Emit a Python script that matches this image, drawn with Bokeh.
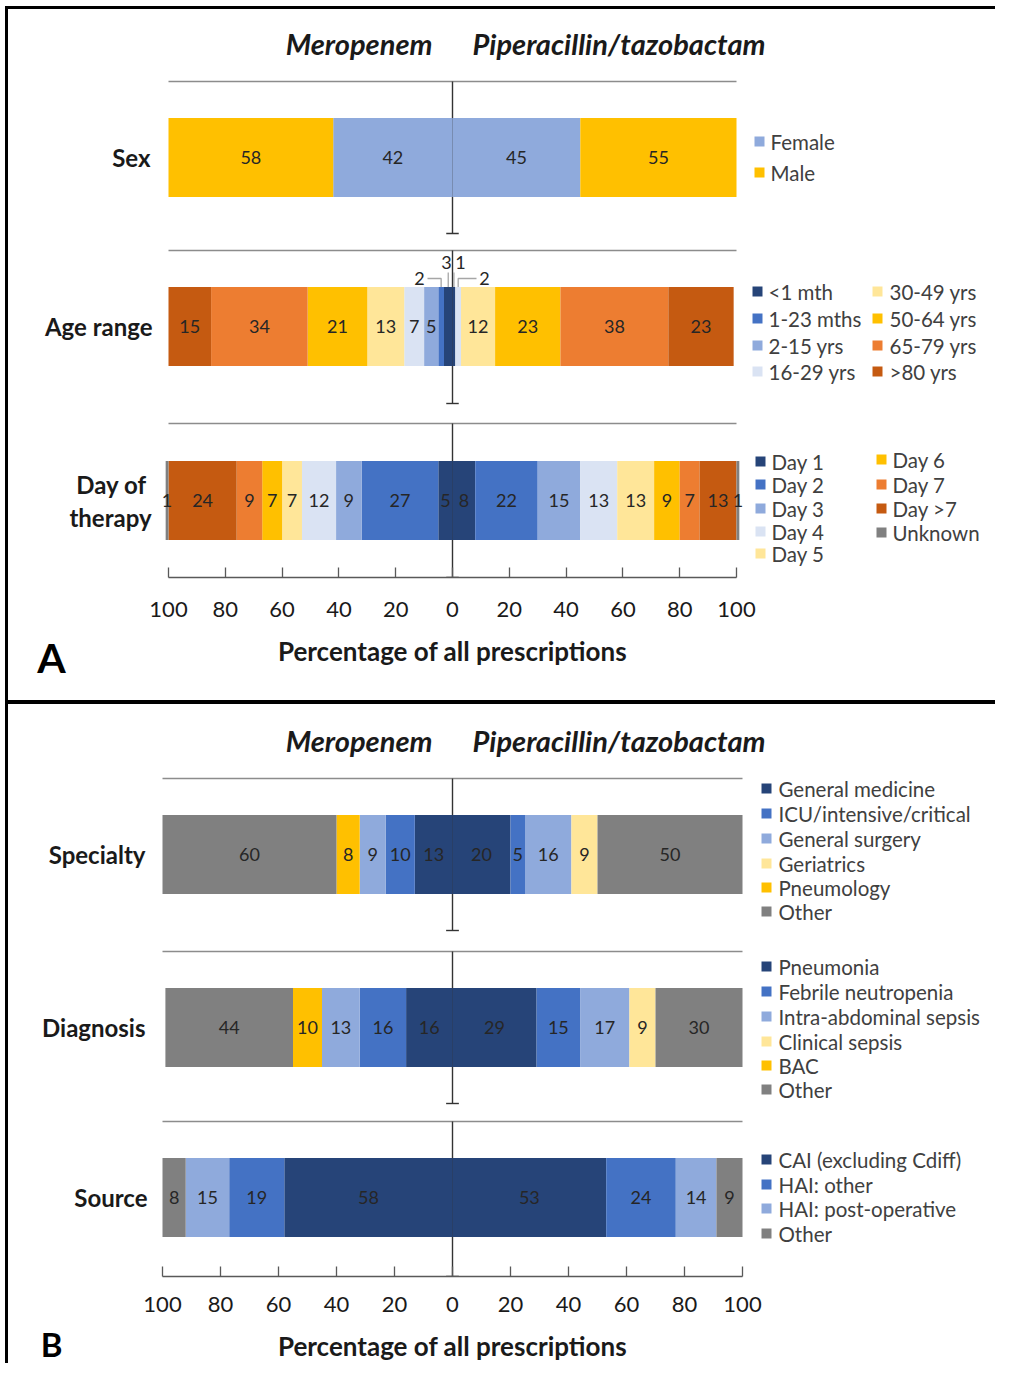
from bokeh.plotting import figure
from bokeh.models import Range1d, LinearAxis, FixedTicker, Label, Div, ColumnDataSource
from bokeh.layouts import row, column
from bokeh.embed import file_html
from bokeh.resources import INLINE
from bokeh.core.properties import value

# ---------------- data ----------------
sex_cats = ["Female", "Male"]
sex_mero = [42, 58]
sex_pip = [45, 55]

age_cats = ["<1 mth", "1-23 mths", "2-15 yrs", "16-29 yrs",
            "30-49 yrs", "50-64 yrs", "65-79 yrs", ">80 yrs"]
age_mero = [3, 2, 5, 7, 13, 21, 34, 15]
age_pip = [1, 0, 0, 2, 12, 23, 38, 23]

day_cats = ["Day 1", "Day 2", "Day 3", "Day 4", "Day 5",
            "Day 6", "Day 7", "Day >7", "Unknown"]
day_mero = [5, 27, 9, 12, 7, 7, 9, 24, 1]
day_pip = [8, 22, 15, 13, 13, 9, 7, 13, 1]

spec_cats = ["General medicine", "ICU/intensive/critical", "General surgery",
             "Geriatrics", "Pneumology", "Other"]
spec_mero = [13, 10, 9, 0, 8, 60]
spec_pip = [20, 5, 16, 9, 0, 50]

diag_cats = ["Pneumonia", "Febrile neutropenia", "Intra-abdominal sepsis",
             "Clinical sepsis", "BAC", "Other"]
diag_mero = [16, 16, 13, 0, 10, 44]
diag_pip = [29, 15, 17, 9, 0, 30]

src_cats = ["CAI (excluding Cdiff)", "HAI: other", "HAI: post-operative", "Other"]
src_mero = [58, 19, 15, 8]
src_pip = [53, 24, 14, 9]

tick_values = [-100, -80, -60, -40, -20, 0, 20, 40, 60, 80, 100]
tick_labels = ["100", "80", "60", "40", "20", "0", "20", "40", "60", "80", "100"]

drug_left = "Meropenem"
drug_right = "Piperacillin/tazobactam"
axis_title = "Percentage of all prescriptions"

# ---------------- styles ----------------
FONT = "Lato"
NAVY = "#264478"; BLUE = "#4472C4"; LBLUE = "#8FAADC"; VLBLUE = "#DAE3F3"
LYEL = "#FFE699"; YEL = "#FFC000"; ORG = "#ED7D31"; DORG = "#C55A11"; GRAY = "#808080"
TXT = "#262626"

sex_cols = [LBLUE, YEL]
age_cols = [NAVY, BLUE, LBLUE, VLBLUE, LYEL, YEL, ORG, DORG]
day_cols = [NAVY, BLUE, LBLUE, VLBLUE, LYEL, YEL, ORG, DORG, GRAY]
spec_cols = [NAVY, BLUE, LBLUE, LYEL, YEL, GRAY]
diag_cols = [NAVY, BLUE, LBLUE, LYEL, YEL, GRAY]
src_cols = [NAVY, BLUE, LBLUE, GRAY]

FIG_W = 987
ORIGIN = 8       # page pixel where the figures start (after spacer + border)
BAR_H = 79


def base_fig(height, x_range, y_bottom, y_top, bottom_border):
    p = figure(width=FIG_W, height=height, x_range=x_range,
               y_range=Range1d(y_bottom, y_top), x_axis_type=None, y_axis_type=None,
               output_backend="svg", toolbar_location=None, title=None,
               min_border_left=0, min_border_right=0, min_border_top=0,
               min_border_bottom=bottom_border)
    p.outline_line_color = None
    p.background_fill_color = "white"
    p.border_fill_color = "white"
    return p


def make_panel(top_ref, axis_ref, bottom_ref, center, scale, band, standoff):
    xr = Range1d((ORIGIN - center) / scale, (ORIGIN + FIG_W - center) / scale)
    frame_h = axis_ref - top_ref
    top = base_fig(frame_h + band, xr, axis_ref, top_ref, band)
    ax = LinearAxis(ticker=FixedTicker(ticks=tick_values), bounds=(-100, 100),
                    major_label_overrides={t: l for t, l in zip(tick_values, tick_labels)},
                    major_tick_in=10, major_tick_out=0, minor_tick_line_color=None,
                    axis_line_color="#595959", axis_line_width=1.3,
                    major_tick_line_color="#595959", major_tick_line_width=1.3,
                    major_label_text_font=FONT, major_label_text_font_size="22px",
                    major_label_text_color="#1a1a1a", major_label_standoff=standoff)
    top.add_layout(ax, "below")
    band_top = axis_ref + band
    bot = base_fig(bottom_ref - band_top, xr, bottom_ref, band_top, 0)
    for p in (top, bot):
        p._center = center
        p._scale = scale
    return top, bot


def px(p, ref_x):
    return (ref_x - p._center) / p._scale


def draw_bar(p, colors, mero, pip, yc, outside=None):
    outside = outside or {}
    lefts, rights, cols, ys = [], [], [], []
    tx, ty, tt = [], [], []
    mids = {}
    cum = 0
    for i, (v, c) in enumerate(zip(mero, colors)):
        lefts.append(-cum - v); rights.append(-cum); cols.append(c); ys.append(yc)
        mids[("m", i)] = -cum - v / 2
        if v > 0 and ("m", i) not in outside:
            tx.append(-cum - v / 2); ty.append(yc); tt.append(str(v))
        cum += v
    cum = 0
    for i, (v, c) in enumerate(zip(pip, colors)):
        lefts.append(cum); rights.append(cum + v); cols.append(c); ys.append(yc)
        mids[("p", i)] = cum + v / 2
        if v > 0 and ("p", i) not in outside:
            tx.append(cum + v / 2); ty.append(yc); tt.append(str(v))
        cum += v
    src = ColumnDataSource(dict(left=lefts, right=rights, y=ys, color=cols))
    p.hbar(y="y", left="left", right="right", height=BAR_H, fill_color="color",
           line_color=None, source=src)
    p.text(x=tx, y=ty, text=tt, text_align="center", text_baseline="middle",
           text_font=value(FONT), text_font_size="18px", text_color=TXT)
    # small values labelled above the bar with leader lines
    bar_top = yc - BAR_H / 2
    for key, (lx, ly, kind) in outside.items():
        side, i = key
        v = mero[i] if side == "m" else pip[i]
        xm = mids[key]
        p.text(x=[px(p, lx)], y=[ly], text=[str(v)], text_align="center",
               text_baseline="middle", text_font=value(FONT), text_font_size="18px",
               text_color=TXT)
        if kind == "up":
            p.line(x=[xm, xm], y=[ly + 10, bar_top], line_color="#A6A6A6", line_width=1.3)
        else:
            ex = px(p, lx + (8 if kind == "right" else -8))
            p.line(x=[ex, xm, xm], y=[ly, ly, bar_top], line_color="#A6A6A6", line_width=1.3)


def separators(p, top, cap):
    p.line(x=[-100, 100], y=[top, top], line_color="#8C8C8C", line_width=1.6)
    p.line(x=[0, 0], y=[top, cap], line_color="#333333", line_width=1.4)
    p.line(x=[-2.2, 2.2], y=[cap, cap], line_color="#333333", line_width=1.4)


def legend(p, names, colors, sq_ref, txt_ref, ys):
    p.scatter(x=[px(p, sq_ref)] * len(names), y=ys, marker="square", size=10,
              fill_color=colors, line_color=None)
    p.text(x=[px(p, txt_ref)] * len(names), y=ys, text=names, text_align="left",
           text_baseline="middle", text_font=value(FONT), text_font_size="20.5px",
           text_color="#404040")


def cat_label(p, text, ref_x, y, align="right"):
    p.add_layout(Label(x=px(p, ref_x), y=y, text=text, text_align=align,
                       text_baseline="middle", text_font=FONT, text_font_size="24px",
                       text_font_style="bold", text_color="#1a1a1a"))


def titles(p, y):
    p.add_layout(Label(x=0, y=y, x_offset=-20, text=drug_left, text_align="right",
                       text_baseline="middle", text_font=FONT, text_font_size="29px",
                       text_font_style="bold italic", text_color="#1a1a1a"))
    p.add_layout(Label(x=0, y=y, x_offset=20, text=drug_right, text_align="left",
                       text_baseline="middle", text_font=FONT, text_font_size="29px",
                       text_font_style="bold italic", text_color="#1a1a1a"))


def bottom_texts(p, letter, y_title, y_letter, letter_size):
    p.text(x=[0], y=[y_title], text=[axis_title], text_align="center",
           text_baseline="middle", text_font=value(FONT), text_font_size="26px",
           text_font_style="bold", text_color="#1a1a1a")
    p.text(x=[px(p, 51)], y=[y_letter], text=[letter], text_align="center",
           text_baseline="middle", text_font=value(FONT), text_font_size=letter_size,
           text_font_style="bold", text_color="black")


# ---------------- panel A ----------------
pA, pA2 = make_panel(9, 577, 700, 452, 2.84, band=52, standoff=24)
titles(pA, 43)
separators(pA, 81, 233)
separators(pA, 250, 403)
separators(pA, 423, 577)
draw_bar(pA, sex_cols, sex_mero, sex_pip, 157)
draw_bar(pA, age_cols, age_mero, age_pip, 326,
         outside={("m", 0): (446, 262, "up"), ("m", 1): (419, 278, "right"),
                  ("p", 0): (460, 262, "up"), ("p", 3): (484, 278, "left")})
draw_bar(pA, day_cols, day_mero, day_pip, 500)
cat_label(pA, "Sex", 150, 157)
cat_label(pA, "Age range", 152, 326)
cat_label(pA, "Day of", 111, 484, "center")
cat_label(pA, "therapy", 110, 517, "center")
legend(pA, sex_cats, sex_cols, 759, 770, [141, 172])
legend(pA, age_cats[:4], age_cols[:4], 757, 768, [291, 318, 345, 371])
legend(pA, age_cats[4:], age_cols[4:], 877, 889, [291, 318, 345, 371])
legend(pA, day_cats[:5], day_cols[:5], 760, 771, [461, 484, 508, 531, 553])
legend(pA, day_cats[5:], day_cols[5:], 881, 892, [459, 484, 508, 532])
bottom_texts(pA2, "A", 650, 657, "41px")

# ---------------- panel B ----------------
pB, pB2 = make_panel(704, 1276, 1363, 452, 2.9, band=47, standoff=20)
titles(pB, 740)
separators(pB, 778, 930)
separators(pB, 951, 1103)
separators(pB, 1121, 1276)
draw_bar(pB, spec_cols, spec_mero, spec_pip, 854)
draw_bar(pB, diag_cols, diag_mero, diag_pip, 1027)
draw_bar(pB, src_cols, src_mero, src_pip, 1197)
cat_label(pB, "Specialty", 145, 854)
cat_label(pB, "Diagnosis", 145, 1027)
cat_label(pB, "Source", 147, 1197)
legend(pB, spec_cats, spec_cols, 766, 778, [788, 813, 838, 863, 887, 911])
legend(pB, diag_cats, diag_cols, 766, 778, [966, 991, 1016, 1041, 1065, 1089])
legend(pB, src_cats, src_cols, 766, 778, [1159, 1184, 1208, 1233])
bottom_texts(pB2, "B", 1345, 1343, "33px")


# ---------------- frame lines ----------------
def block(w, h, color=None):
    styles = {"background-color": color} if color else {}
    return Div(text="", width=w, height=h, margin=0, styles=styles)


layout = column(
    block(995, 6),
    row(block(5, 1357), block(3, 1357, "black"),
        column(block(FIG_W, 3, "black"), pA, pA2, block(FIG_W, 4, "black"), pB, pB2,
               spacing=0),
        spacing=0),
    spacing=0)

open("out.html", "w").write(file_html(layout, INLINE))
